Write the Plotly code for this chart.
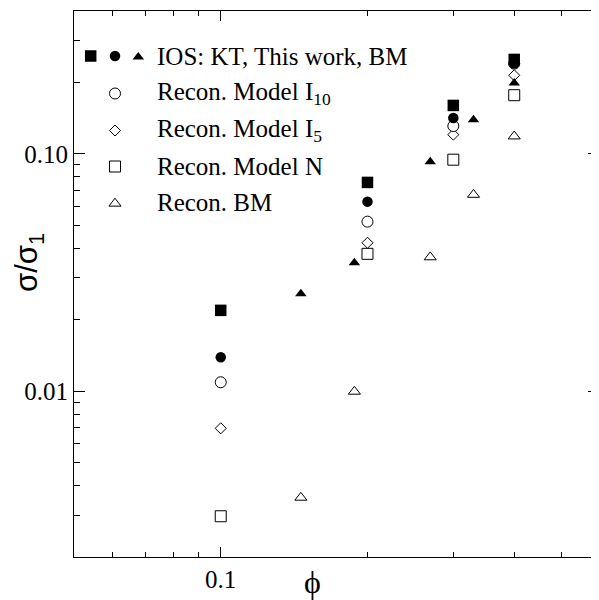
import math
import plotly.graph_objects as go

# ---------------- data ----------------
phi_main = [0.1, 0.2, 0.3, 0.4]
ios_kt = [0.0219, 0.0758, 0.160, 0.250]
ios_this_work = [0.0139, 0.0629, 0.1416, 0.2404]
recon_model_i10 = [0.0109, 0.0518, 0.131, 0.240]
recon_model_i5 = [0.00697, 0.0422, 0.1205, 0.2143]
recon_model_n = [0.00297, 0.0379, 0.0945, 0.1767]

phi_bm = [0.146, 0.188, 0.269, 0.33, 0.4]
ios_bm = [0.0257, 0.0348, 0.0927, 0.1393, 0.199]
recon_bm = [0.00356, 0.00996, 0.0367, 0.0673, 0.1186]

x_tickvals = [0.1]
x_ticktext = ["0.1"]
x_minor = [0.06, 0.07, 0.08, 0.09, 0.2, 0.3, 0.4, 0.5]
y_tickvals = [0.01, 0.1]
y_ticktext = ["0.01", "0.10"]
y_minor = [0.003, 0.004, 0.005, 0.006, 0.007, 0.008, 0.009,
           0.02, 0.03, 0.04, 0.05, 0.06, 0.07, 0.08, 0.09, 0.2, 0.3]

legend_labels = [
    "IOS: KT, This work, BM",
    "Recon. Model I<sub>10</sub>",
    "Recon. Model I<sub>5</sub>",
    "Recon. Model N",
    "Recon. BM",
]
x_title = "\u03d5"
y_title = "\u03c3/\u03c3<sub>1</sub>"

# ---------------- layout geometry (reference pixel frame) ----------------
OFF = 8                      # page body margin of the browser
PX_L, PX_R, PX_T, PX_B = 74, 599, 11, 557
W, H = 599 - OFF, 600 - OFF
L, T = PX_L - OFF, PX_T - OFF
R = W - (PX_R - OFF)
B = H - (PX_B - OFF)
PW, PH = PX_R - PX_L, PX_B - PX_T
X_RANGE = [math.log10(0.05), math.log10(0.597)]
Y_RANGE = [math.log10(0.002), math.log10(0.4)]
SERIF = "Liberation Serif"
BLACK = "#000000"


def paper_x(px):
    return (px - PX_L) / PW


def paper_y(py):
    return (PX_B - py) / PH


fig = go.Figure()


def add(x, y, symbol, size, filled, xaxis="x", yaxis="y"):
    fig.add_trace(go.Scatter(
        x=x, y=y, mode="markers", xaxis=xaxis, yaxis=yaxis,
        showlegend=False, hoverinfo="skip", cliponaxis=False,
        marker=dict(symbol=symbol, size=size,
                    color=BLACK if filled else "white",
                    line=dict(color=BLACK, width=0 if filled else 1)),
    ))


# open symbols first, filled on top
add(phi_main, recon_model_n, "square", 11, False)
add(phi_main, recon_model_i5, "diamond", 8.5, False)
add(phi_main, recon_model_i10, "circle", 11, False)
add(phi_bm, recon_bm, "triangle-up", 10.5, False)
add(phi_main, ios_kt, "square", 11.5, True)
add(phi_main, ios_this_work, "circle", 10.5, True)
add(phi_bm, ios_bm, "triangle-up", 10, True)

# invisible trace so that the right-hand tick axis is rendered
fig.add_trace(go.Scatter(x=[0.1], y=[0.01], xaxis="x", yaxis="y2", mode="markers",
                         marker=dict(opacity=0), showlegend=False, hoverinfo="skip"))

# ---------------- custom legend (reference-pixel overlay axes) ----------------
rows_y = [56, 93.5, 130.5, 166.5, 202.5]
sym_x = 115
text_x = 155
add([90.7], [rows_y[0]], "square", 11.5, True, "x3", "y3")
add([sym_x], [rows_y[0]], "circle", 10.5, True, "x3", "y3")
add([138.3], [rows_y[0] + 1], "triangle-up", 10, True, "x3", "y3")
add([sym_x], [rows_y[1]], "circle", 11, False, "x3", "y3")
add([sym_x], [rows_y[2]], "diamond", 8.5, False, "x3", "y3")
add([sym_x], [rows_y[3]], "square", 11, False, "x3", "y3")
add([sym_x], [rows_y[4] + 1], "triangle-up", 10.5, False, "x3", "y3")

annotations = []
for label, ry in zip(legend_labels, rows_y):
    annotations.append(dict(x=paper_x(text_x), y=paper_y(ry), xref="paper", yref="paper",
                            text=label, showarrow=False, xanchor="left", yanchor="middle",
                            font=dict(family=SERIF, size=25, color=BLACK)))
annotations.append(dict(x=paper_x(312), y=paper_y(582), xref="paper", yref="paper",
                        text=x_title, showarrow=False, xanchor="center", yanchor="middle",
                        borderpad=0,
                        font=dict(family=SERIF, size=32, color=BLACK)))
annotations.append(dict(x=paper_x(29), y=paper_y(263), xref="paper", yref="paper",
                        text=y_title, showarrow=False, xanchor="center", yanchor="middle",
                        textangle=-90, borderpad=0,
                        font=dict(family="Liberation Sans", size=31, color=BLACK)))

tickfont = dict(family=SERIF, size=25, color=BLACK)

fig.update_layout(
    width=W, height=H,
    margin=dict(l=L, r=R, t=T, b=B, pad=0, autoexpand=False),
    paper_bgcolor="white", plot_bgcolor="white",
    showlegend=False,
    annotations=annotations,
    xaxis=dict(
        type="log", range=X_RANGE, showgrid=False, zeroline=False,
        showline=True, linecolor=BLACK, linewidth=1, mirror="ticks",
        ticks="inside", ticklen=10, tickwidth=1, tickcolor=BLACK,
        tickmode="array", tickvals=x_tickvals, ticktext=x_ticktext,
        tickfont=tickfont,
        minor=dict(tickmode="array", tickvals=x_minor, ticks="inside",
                   ticklen=5, tickwidth=1, tickcolor=BLACK, showgrid=False),
    ),
    yaxis=dict(
        type="log", range=Y_RANGE, showgrid=False, zeroline=False,
        showline=True, linecolor=BLACK, linewidth=1, mirror=False,
        ticks="inside", ticklen=11, tickwidth=1, tickcolor=BLACK,
        tickmode="array", tickvals=y_tickvals, ticktext=y_ticktext,
        tickfont=tickfont,
        minor=dict(tickmode="array", tickvals=y_minor, ticks="inside",
                   ticklen=6, tickwidth=1, tickcolor=BLACK, showgrid=False),
    ),
    yaxis2=dict(
        type="log", range=Y_RANGE, overlaying="y", side="right", anchor="x",
        showgrid=False, zeroline=False, showline=False, showticklabels=False,
        ticks="inside", ticklen=11, tickwidth=1, tickcolor=BLACK,
        tickmode="array", tickvals=y_tickvals,
        minor=dict(tickmode="array", tickvals=y_minor, ticks="inside",
                   ticklen=6, tickwidth=1, tickcolor=BLACK, showgrid=False),
    ),
    xaxis3=dict(range=[PX_L, PX_R], overlaying="x", visible=False, fixedrange=True),
    yaxis3=dict(range=[PX_B, PX_T], overlaying="y", anchor="x3", visible=False, fixedrange=True),
)

fig.write_html("out.html")
